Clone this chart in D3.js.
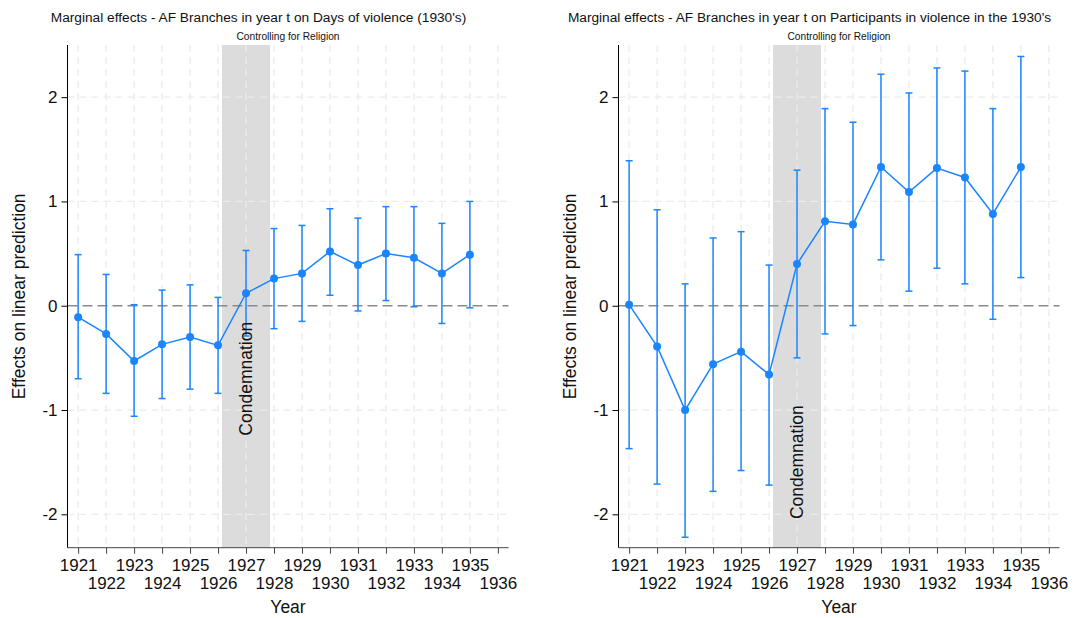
<!DOCTYPE html>
<html>
<head>
<meta charset="utf-8">
<script src="https://cdn.jsdelivr.net/npm/d3@7"></script>
<style>
  body { margin: 0; background: #fff; }
  svg { display: block; font-family: "Liberation Sans", Arial, sans-serif; }
</style>
</head>
<body>
<script>
// data
var years = [1921, 1922, 1923, 1924, 1925, 1926, 1927, 1928, 1929, 1930, 1931, 1932, 1933, 1934, 1935];
var tickYears = d3.range(1921, 1937);
var yTicks = [-2, -1, 0, 1, 2];

var daysEst = [-0.11, -0.27, -0.53, -0.37, -0.30, -0.38, 0.12, 0.26, 0.31, 0.52, 0.39, 0.50, 0.46, 0.31, 0.49];
var daysLo  = [-0.70, -0.84, -1.06, -0.89, -0.80, -0.84, -0.29, -0.22, -0.15, 0.10, -0.05, 0.05, -0.01, -0.17, -0.02];
var daysHi  = [0.49, 0.30, 0.01, 0.15, 0.20, 0.08, 0.53, 0.74, 0.77, 0.93, 0.84, 0.95, 0.95, 0.79, 1.00];

var partEst = [0.01, -0.39, -1.00, -0.56, -0.44, -0.66, 0.40, 0.81, 0.78, 1.33, 1.09, 1.32, 1.23, 0.88, 1.33];
var partLo  = [-1.37, -1.71, -2.22, -1.78, -1.58, -1.72, -0.50, -0.27, -0.19, 0.44, 0.14, 0.36, 0.21, -0.13, 0.27];
var partHi  = [1.39, 0.92, 0.21, 0.65, 0.71, 0.39, 1.30, 1.89, 1.76, 2.22, 2.04, 2.28, 2.25, 1.89, 2.39];

var shadeFrom = 1926.14, shadeTo = 1927.86;

var panels = [
  {title: "Marginal effects - AF Branches in year t on Days of violence (1930's)",
   est: daysEst, lo: daysLo, hi: daysHi, left: 67.5, labelY: -0.7},
  {title: "Marginal effects - AF Branches in year t on Participants in violence in the 1930's",
   est: partEst, lo: partLo, hi: partHi, left: 618.5, labelY: -1.5}
];

var W = 1088, H = 618;
var plotW = 441, plotTop = 45, plotBottom = 547.7;
var blue = "#1a85ff";

const svg = d3.select("body")
    .append("svg")
    .attr("width", W)
    .attr("height", H)
    .attr("viewBox", [0, 0, W, H]);

panels.forEach(function(p) {
    var x = d3.scaleLinear()
        .domain([1920.62, 1936.38])
        .range([p.left, p.left + plotW]);
    var y = d3.scaleLinear()
        .domain([-2.32, 2.5])
        .range([plotBottom, plotTop]);

    var g = svg.append("g");

    // shaded condemnation band
    g.append("rect")
        .attr("x", x(shadeFrom))
        .attr("y", plotTop)
        .attr("width", x(shadeTo) - x(shadeFrom))
        .attr("height", plotBottom - plotTop)
        .attr("fill", "#dcdcdc");

    // grid
    g.selectAll(".vgrid")
        .data(tickYears)
        .join("line")
        .attr("x1", d => x(d)).attr("x2", d => x(d))
        .attr("y1", plotTop).attr("y2", plotBottom)
        .attr("stroke", "#ececec")
        .attr("stroke-width", 1.3)
        .attr("stroke-dasharray", "7,5");
    g.selectAll(".hgrid")
        .data(yTicks.filter(d => d != 0))
        .join("line")
        .attr("x1", p.left).attr("x2", p.left + plotW)
        .attr("y1", d => y(d)).attr("y2", d => y(d))
        .attr("stroke", "#ececec")
        .attr("stroke-width", 1.3)
        .attr("stroke-dasharray", "7,5");

    // zero reference line
    g.append("line")
        .attr("x1", p.left).attr("x2", p.left + plotW)
        .attr("y1", y(0)).attr("y2", y(0))
        .attr("stroke", "#8a8a8a")
        .attr("stroke-width", 1.3)
        .attr("stroke-dasharray", "10,5");

    // error bars
    var rows = years.map((yr, i) => ({year: yr, est: p.est[i], lo: p.lo[i], hi: p.hi[i]}));
    g.selectAll(".bar")
        .data(rows)
        .join("line")
        .attr("x1", d => x(d.year)).attr("x2", d => x(d.year))
        .attr("y1", d => y(d.lo)).attr("y2", d => y(d.hi))
        .attr("stroke", blue)
        .attr("stroke-width", 1.5);
    ["lo", "hi"].forEach(function(k) {
        g.selectAll(".cap-" + k)
            .data(rows)
            .join("line")
            .attr("x1", d => x(d.year) - 3.5).attr("x2", d => x(d.year) + 3.5)
            .attr("y1", d => y(d[k])).attr("y2", d => y(d[k]))
            .attr("stroke", blue)
            .attr("stroke-width", 1.5);
    });

    var line = d3.line()
        .x(d => x(d.year))
        .y(d => y(d.est));
    g.append("path")
        .datum(rows)
        .attr("fill", "none")
        .attr("stroke", blue)
        .attr("stroke-width", 1.5)
        .attr("d", line);
    g.selectAll(".pt")
        .data(rows)
        .join("circle")
        .attr("cx", d => x(d.year))
        .attr("cy", d => y(d.est))
        .attr("r", 4)
        .attr("fill", blue);

    // condemnation label
    g.append("text")
        .attr("transform", `translate(${x(1927) + 6},${y(p.labelY)}) rotate(-90)`)
        .attr("text-anchor", "middle")
        .attr("font-size", 17.5)
        .attr("fill", "#111")
        .text("Condemnation");

    // y-axis
    var ya = g.append("g")
        .attr("transform", `translate(${p.left},0)`)
        .call(d3.axisLeft(y).tickValues(yTicks).tickSize(6).tickPadding(4).tickSizeOuter(0)
            .tickFormat(d => String(d)));
    ya.select(".domain").attr("stroke", "#000").attr("d", `M0,${plotTop}V${plotBottom}`);
    ya.selectAll("text").attr("font-size", 17).attr("fill", "#111").attr("font-family", null);

    // x-axis, labels staggered over two rows
    var xa = g.append("g")
        .attr("transform", `translate(0,${plotBottom})`)
        .call(d3.axisBottom(x).tickValues(tickYears).tickSize(6).tickSizeOuter(0)
            .tickFormat(d => String(d)));
    xa.select(".domain").attr("stroke", "#444").attr("d", `M${p.left},0H${p.left + plotW}`);
    xa.selectAll("line").attr("stroke", "#444");
    xa.selectAll("text")
        .attr("font-size", 17)
        .attr("fill", "#111")
        .attr("font-family", null)
        .attr("dy", null)
        .attr("y", d => (d % 2 == 1 ? 23.5 : 41.5));

    // titles
    g.append("text")
        .attr("x", p.left + 191)
        .attr("y", 21.5)
        .attr("text-anchor", "middle")
        .attr("font-size", 13.7)
        .attr("fill", "#111")
        .text(p.title);
    g.append("text")
        .attr("x", p.left + plotW / 2)
        .attr("y", 39.5)
        .attr("text-anchor", "middle")
        .attr("font-size", 10.2)
        .attr("fill", "#111")
        .text("Controlling for Religion");

    g.append("text")
        .attr("transform", `translate(${p.left - 43},${(plotTop + plotBottom) / 2}) rotate(-90)`)
        .attr("text-anchor", "middle")
        .attr("font-size", 17.5)
        .attr("fill", "#111")
        .text("Effects on linear prediction");

    g.append("text")
        .attr("x", p.left + plotW / 2)
        .attr("y", 613)
        .attr("text-anchor", "middle")
        .attr("font-size", 17.5)
        .attr("fill", "#111")
        .text("Year");
});
</script>
</body>
</html>
